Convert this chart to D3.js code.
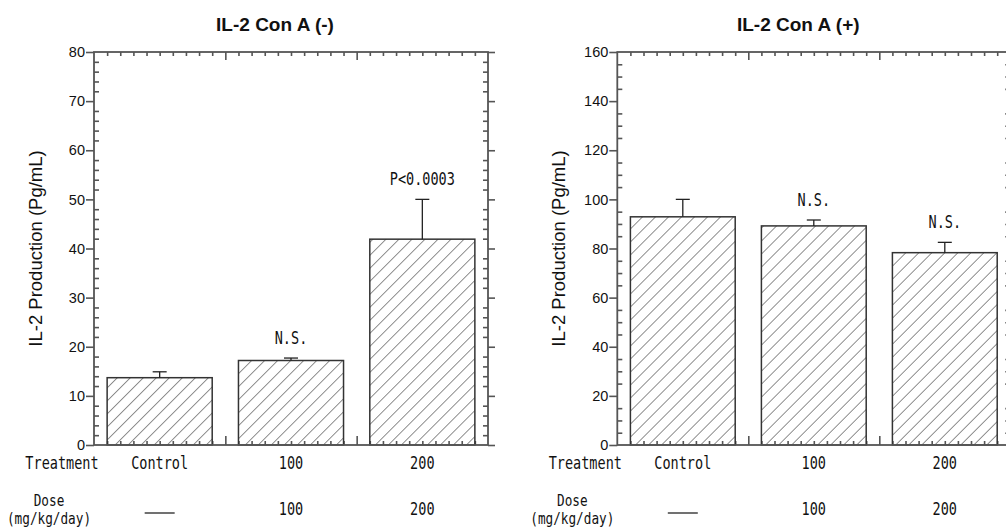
<!DOCTYPE html>
<html>
<head>
<meta charset="utf-8">
<script src="https://cdn.jsdelivr.net/npm/d3@7"></script>
<style>
  body { margin: 0; background: #fff; }
  svg { display: block; }
</style>
</head>
<body>
<div id="chart"></div>
<script>
// data
const treatments = ["Control", "100", "200"];
const doses = ["", "100", "200"];          // "" -> drawn as a dash
const meansConANeg = [13.7, 17.2, 41.9];
const errsConANeg = [1.2, 0.5, 8.1];
const notesConANeg = ["", "N.S.", "P<0.0003"];
const meansConAPos = [92.9, 89.2, 78.3];
const errsConAPos = [7.1, 2.4, 4.2];
const notesConAPos = ["", "N.S.", "N.S."];

const width = 1006, height = 529;
const plotTop = 52, plotBottom = 445;
const axisColor = "#555";
const monoFont = "DejaVu Sans Mono";

const svg = d3.select("#chart").append("svg")
    .attr("width", width)
    .attr("height", height);

svg.append("defs").append("pattern")
    .attr("id", "hatch")
    .attr("patternUnits", "userSpaceOnUse")
    .attr("width", 9.2)
    .attr("height", 9.2)
    .attr("patternTransform", "rotate(45)")
    .append("line")
    .attr("x1", 0).attr("y1", 0)
    .attr("x2", 0).attr("y2", 9.2)
    .attr("stroke", "#333")
    .attr("stroke-width", 1.1);

// squeezed monospace text, like the half-width japanese font of the original
function mono(g, x, y, txt, size) {
    return g.append("text")
        .attr("transform", `translate(${x},${y}) scale(0.82,1.05)`)
        .attr("text-anchor", "middle")
        .attr("font-family", monoFont)
        .attr("font-size", size || 16.5)
        .attr("fill", "#111")
        .text(txt);
}

function panel(opt) {
    const x0 = opt.x0, x1 = opt.x1;
    const g = svg.append("g");

    const x = d3.scaleBand()
        .domain(treatments)
        .range([x0, x1])
        .paddingInner(0.2)
        .paddingOuter(0.1);

    const y = d3.scaleLinear()
        .domain([0, opt.max])
        .range([plotBottom, plotTop]);

    // fine x ruler (10 divisions per category) for top/bottom ticks
    const xr = d3.scaleLinear().domain([0, 30]).range([x0, x1]);
    const xMinor = d3.range(1, 30).filter(v => v % 10 !== 0);
    const xMajor = [10, 20];

    const yMajor = d3.range(0, opt.max + 1, opt.step);
    const yMinor = d3.range(0, opt.max + 0.01, opt.minor).filter(v => v % opt.step !== 0);

    function clean(sel) {
        sel.select(".domain").remove();
        sel.selectAll(".tick line").attr("stroke", axisColor).attr("stroke-width", 1.6);
    }

    // left axis: labelled majors outward, minors inward
    g.append("g")
        .attr("transform", `translate(${x0},0)`)
        .call(d3.axisLeft(y).tickValues(yMajor).tickSize(8).tickPadding(1))
        .call(clean)
        .call(s => s.selectAll("text")
            .attr("font-family", "Liberation Sans")
            .attr("font-size", 14.5)
            .attr("fill", "#111"));
    g.append("g")
        .attr("transform", `translate(${x0},0)`)
        .call(d3.axisRight(y).tickValues(yMinor).tickSize(5).tickFormat(""))
        .call(clean);

    // right axis mirrors it
    g.append("g")
        .attr("transform", `translate(${x1},0)`)
        .call(d3.axisRight(y).tickValues(yMajor).tickSize(7).tickFormat(""))
        .call(clean);
    g.append("g")
        .attr("transform", `translate(${x1},0)`)
        .call(d3.axisLeft(y).tickValues(yMinor).tickSize(5).tickFormat(""))
        .call(clean);

    // top and bottom rulers, inward
    g.append("g")
        .attr("transform", `translate(0,${plotTop})`)
        .call(d3.axisBottom(xr).tickValues(xMinor).tickSize(4).tickFormat(""))
        .call(clean);
    g.append("g")
        .attr("transform", `translate(0,${plotTop})`)
        .call(d3.axisBottom(xr).tickValues(xMajor).tickSize(8).tickFormat(""))
        .call(clean);
    g.append("g")
        .attr("transform", `translate(0,${plotBottom})`)
        .call(d3.axisTop(xr).tickValues(xMinor).tickSize(4).tickFormat(""))
        .call(clean);
    g.append("g")
        .attr("transform", `translate(0,${plotBottom})`)
        .call(d3.axisTop(xr).tickValues(xMajor).tickSize(9).tickFormat(""))
        .call(clean);

    const rows = treatments.map((t, i) => ({
        t: t, dose: doses[i], mean: opt.means[i], err: opt.errs[i], note: opt.notes[i]
    }));

    // bars
    g.append("g")
        .selectAll("rect")
        .data(rows)
        .join("rect")
        .attr("x", d => x(d.t))
        .attr("y", d => y(d.mean))
        .attr("width", x.bandwidth())
        .attr("height", d => y(0) - y(d.mean))
        .attr("fill", "url(#hatch)")
        .attr("stroke", "#333")
        .attr("stroke-width", 1.5);

    // upper error bars
    const eb = g.append("g").attr("stroke", "#222").attr("stroke-width", 1.3);
    eb.selectAll("line.v")
        .data(rows)
        .join("line")
        .attr("class", "v")
        .attr("x1", d => x(d.t) + x.bandwidth() / 2)
        .attr("x2", d => x(d.t) + x.bandwidth() / 2)
        .attr("y1", d => y(d.mean))
        .attr("y2", d => y(d.mean + d.err));
    eb.selectAll("line.c")
        .data(rows)
        .join("line")
        .attr("class", "c")
        .attr("x1", d => x(d.t) + x.bandwidth() / 2 - 7)
        .attr("x2", d => x(d.t) + x.bandwidth() / 2 + 7)
        .attr("y1", d => y(d.mean + d.err))
        .attr("y2", d => y(d.mean + d.err));

    // frame
    g.append("rect")
        .attr("x", x0).attr("y", plotTop)
        .attr("width", x1 - x0).attr("height", plotBottom - plotTop)
        .attr("fill", "none")
        .attr("stroke", axisColor)
        .attr("stroke-width", 1.8);

    // significance notes
    rows.filter(d => d.note).forEach(d => {
        mono(g, x(d.t) + x.bandwidth() / 2, y(d.mean + d.err) - 14, d.note);
    });

    // treatment / dose rows
    mono(g, x0 - 32, 469, "Treatment");
    mono(g, x0 - 45, 506, "Dose", 15.5);
    mono(g, x0 - 45, 524, "(mg/kg/day)", 15.5);
    rows.forEach(d => {
        const cx = x(d.t) + x.bandwidth() / 2;
        mono(g, cx, 469, d.t);
        if (d.dose) {
            mono(g, cx, 515, d.dose);
        } else {
            g.append("line")
                .attr("x1", cx - 15).attr("x2", cx + 15)
                .attr("y1", 513).attr("y2", 513)
                .attr("stroke", "#111").attr("stroke-width", 1.2);
        }
    });

    // titles
    g.append("text")
        .attr("x", x0 + 181)
        .attr("y", 31)
        .attr("text-anchor", "middle")
        .attr("font-family", "Liberation Sans")
        .attr("font-weight", "bold")
        .attr("font-size", 19)
        .attr("fill", "#111")
        .text(opt.title);

    g.append("text")
        .attr("transform", `translate(${x0 - 52},${(plotTop + plotBottom) / 2}) rotate(-90)`)
        .attr("text-anchor", "middle")
        .attr("font-family", "Liberation Sans")
        .attr("font-size", 18.5)
        .attr("fill", "#111")
        .text("IL-2 Production (Pg/mL)");
}

panel({
    x0: 94, x1: 488, max: 80, step: 10, minor: 2,
    means: meansConANeg, errs: errsConANeg, notes: notesConANeg,
    title: "IL-2 Con A (-)"
});
panel({
    x0: 617.3, x1: 1010.3, max: 160, step: 20, minor: 5,
    means: meansConAPos, errs: errsConAPos, notes: notesConAPos,
    title: "IL-2 Con A (+)"
});
</script>
</body>
</html>
